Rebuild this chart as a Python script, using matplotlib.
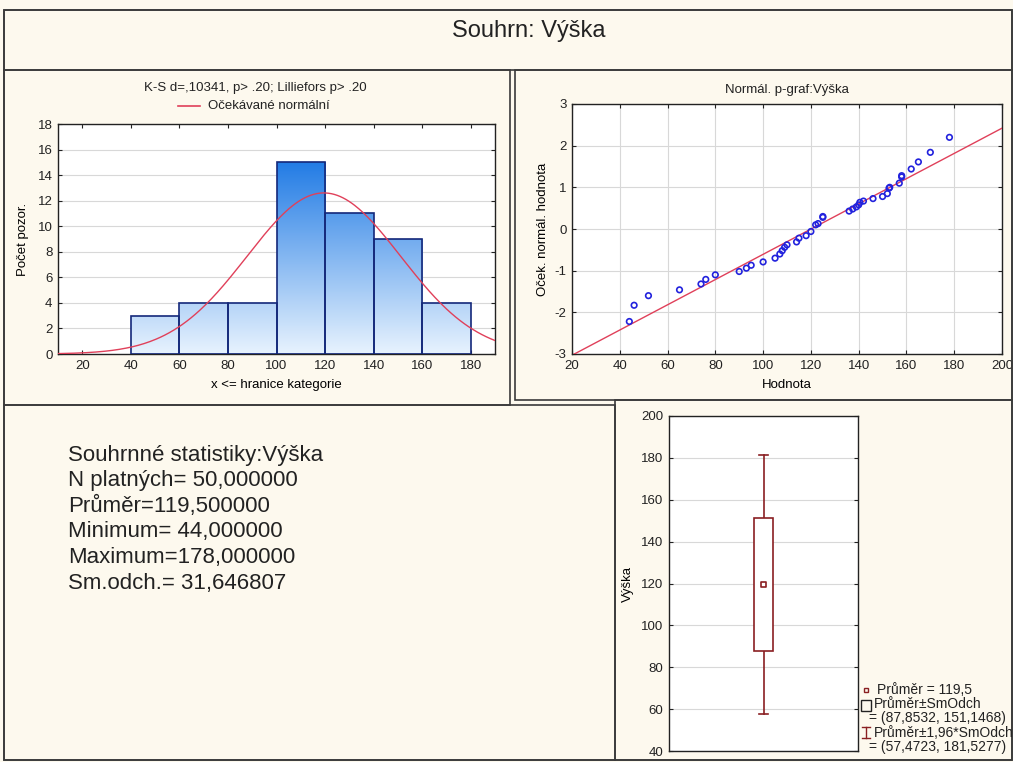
import matplotlib
matplotlib.use("Agg")
import matplotlib.pyplot as plt
import numpy as np
from matplotlib.patches import Rectangle
from matplotlib.lines import Line2D
from matplotlib.colors import LinearSegmentedColormap

plt.rcParams["font.family"] = ["Liberation Sans", "DejaVu Sans"]
plt.rcParams["axes.unicode_minus"] = False

# data
hist_edges = [40, 60, 80, 100, 120, 140, 160, 180]
hist_counts = [3, 4, 4, 15, 11, 9, 4]
n_obs = 50
mean_val = 119.5
sd_val = 31.646807
min_val = 44.0
max_val = 178.0

prob_x = [44, 46, 52, 65, 74, 76, 80, 90, 93, 95, 100, 105, 107, 108, 109, 110,
          114, 115, 118, 120, 122, 123, 125, 125, 136, 137.5, 139, 140, 140.5, 142,
          146, 150, 152, 152.7, 153, 157, 158, 158, 162, 165, 170, 178]
prob_y = [-2.22, -1.83, -1.6, -1.46, -1.32, -1.21, -1.10, -1.02, -0.94, -0.87, -0.79,
          -0.70, -0.60, -0.52, -0.44, -0.38, -0.31, -0.22, -0.16, -0.06, 0.10, 0.13,
          0.28, 0.30, 0.43, 0.48, 0.53, 0.58, 0.64, 0.67, 0.73, 0.78, 0.85, 0.98,
          1.00, 1.10, 1.25, 1.28, 1.44, 1.61, 1.84, 2.20]
prob_line_x = [20, 200]
prob_line_y = [-3.03, 2.42]

box_sd = (87.8532, 151.1468)
box_ci = (57.4723, 181.5277)

W, H = 1013, 762
bg = "#fdf9ee"
small = 9.5
fig = plt.figure(figsize=(W / 100, H / 100), dpi=100)
fig.patch.set_facecolor(bg)


def px_axes(x0, y0, x1, y1):
    return fig.add_axes([x0 / W, 1 - y1 / H, (x1 - x0) / W, (y1 - y0) / H])


def px_rect(x0, y0, x1, y1):
    r = Rectangle((x0 / W, 1 - y1 / H), (x1 - x0) / W, (y1 - y0) / H,
                  transform=fig.transFigure, fill=False, ec="#3a3a3a", lw=1.2)
    fig.add_artist(r)


def fx(x):
    return x / W


def fy(y):
    return 1 - y / H


# panel frames
px_rect(4, 10, 1012, 760)
px_rect(4, 10, 1012, 70)
px_rect(4, 70, 510, 405)
px_rect(515, 70, 1012, 400)
px_rect(4, 405, 615, 760)
px_rect(615, 400, 1012, 760)

fig.text(fx(529), fy(31), "Souhrn: Výška", fontsize=17, ha="center", va="center", color="#222")


def style_axes(ax):
    ax.set_facecolor("white")
    ax.tick_params(direction="in", length=3, labelsize=small, top=True, right=True,
                   labeltop=False, labelright=False, colors="#222", pad=4)
    for s in ax.spines.values():
        s.set_color("#222")
        s.set_linewidth(1.0)
    ax.set_axisbelow(True)


# histogram
ax = px_axes(58, 124, 495, 354)
style_axes(ax)
ax.set_xlim(10, 190)
ax.set_ylim(0, 18)
ax.set_xticks(range(20, 181, 20))
ax.set_yticks(range(0, 19, 2))
ax.yaxis.grid(True, color="#d8d8d8", lw=0.8)

cmap = LinearSegmentedColormap.from_list("bl", ["#e8f3fe", "#1c78e4"])
grad = np.linspace(0, 1, 256).reshape(-1, 1)
for i, c in enumerate(hist_counts):
    x0, x1 = hist_edges[i], hist_edges[i + 1]
    im = ax.imshow(grad, cmap=cmap, origin="lower", aspect="auto",
                   extent=(10, 190, 0, 15.5), zorder=2, interpolation="bilinear")
    rect = Rectangle((x0, 0), x1 - x0, c, fill=False, ec="#14287a", lw=1.2, zorder=3)
    ax.add_patch(rect)
    im.set_clip_path(rect)
ax.set_xlim(10, 190)
ax.set_ylim(0, 18)

xx = np.linspace(10, 190, 300)
binw = hist_edges[1] - hist_edges[0]
yy = n_obs * binw * np.exp(-0.5 * ((xx - mean_val) / sd_val) ** 2) / (sd_val * np.sqrt(2 * np.pi))
ax.plot(xx, yy, color="#e0405a", lw=1.0, zorder=4)
ax.set_xlabel("x <= hranice kategorie", fontsize=small, labelpad=5)
ax.set_ylabel("Počet pozor.", fontsize=small, labelpad=6)

fig.text(fx(255), fy(88), "K-S d=,10341, p> .20; Lilliefors p> .20", fontsize=small,
         ha="center", va="center", color="#222")
fig.add_artist(Line2D([fx(178), fx(200)], [fy(106), fy(106)], color="#e0405a", lw=1.2,
                      transform=fig.transFigure))
fig.text(fx(208), fy(106), "Očekávané normální", fontsize=small,
         ha="left", va="center", color="#222")

# normal probability plot
ax2 = px_axes(572, 104, 1002, 354)
style_axes(ax2)
ax2.set_xlim(20, 200)
ax2.set_ylim(-3, 3)
ax2.set_xticks(range(20, 201, 20))
ax2.set_yticks(range(-3, 4))
ax2.grid(True, color="#d8d8d8", lw=0.8)
ax2.plot(prob_line_x, prob_line_y, color="#e0405a", lw=1.0, zorder=3)
ax2.scatter(prob_x, prob_y, s=16, facecolors="none", edgecolors="#2222dd", lw=1.2, zorder=4)
ax2.set_xlabel("Hodnota", fontsize=small, labelpad=5)
ax2.set_ylabel("Oček. normál. hodnota", fontsize=small, labelpad=4)
ax2.set_title("Normál. p-graf:Výška", fontsize=small, pad=8, color="#222")

# stats text
stats_lines = [
    "Souhrnné statistiky:Výška",
    "N platných= 50,000000",
    "Průměr=119,500000",
    "Minimum= 44,000000",
    "Maximum=178,000000",
    "Sm.odch.= 31,646807",
]
for i, t in enumerate(stats_lines):
    fig.text(fx(68), fy(455 + i * 25.6), t, fontsize=16, ha="left", va="center", color="#222")

# box plot
box_col = "#8a1f22"
ax3 = px_axes(669, 416, 858, 751)
style_axes(ax3)
ax3.tick_params(top=False, bottom=False, labelbottom=False)
ax3.set_xlim(-1, 1)
ax3.set_ylim(40, 200)
ax3.set_yticks(range(40, 201, 20))
ax3.yaxis.grid(True, color="#d8d8d8", lw=0.8)
ax3.plot([0, 0], [box_ci[0], box_sd[0]], color=box_col, lw=1.2)
ax3.plot([0, 0], [box_sd[1], box_ci[1]], color=box_col, lw=1.2)
ax3.plot([-0.05, 0.05], [box_ci[0]] * 2, color=box_col, lw=1.2)
ax3.plot([-0.05, 0.05], [box_ci[1]] * 2, color=box_col, lw=1.2)
ax3.add_patch(Rectangle((-0.1, box_sd[0]), 0.2, box_sd[1] - box_sd[0], fc="white",
                        ec=box_col, lw=1.2, zorder=3))
ax3.scatter([0], [mean_val], marker="s", s=14, facecolors="none", edgecolors=box_col,
            lw=1.2, zorder=4)
ax3.set_ylabel("Výška", fontsize=small, labelpad=5)

# box legend
fig.add_artist(Rectangle((fx(864), fy(692)), 4 / W, 4 / H, fill=False, ec=box_col, lw=1.0,
                         transform=fig.transFigure))
fig.add_artist(Rectangle((fx(861), fy(711)), 10 / W, 11 / H, fill=False, ec="#222", lw=1.0,
                         transform=fig.transFigure))
fig.add_artist(Line2D([fx(866), fx(866)], [fy(727), fy(738)], color=box_col, lw=1.0,
                      transform=fig.transFigure))
fig.add_artist(Line2D([fx(862), fx(870)], [fy(727), fy(727)], color=box_col, lw=1.0,
                      transform=fig.transFigure))
fig.add_artist(Line2D([fx(862), fx(870)], [fy(738), fy(738)], color=box_col, lw=1.0,
                      transform=fig.transFigure))
leg_lines = [
    (877, 690, "Průměr = 119,5"),
    (874, 704, "Průměr±SmOdch"),
    (869, 718, "= (87,8532, 151,1468)"),
    (874, 733, "Průměr±1,96*SmOdch"),
    (869, 747, "= (57,4723, 181,5277)"),
]
for x, y, t in leg_lines:
    fig.text(fx(x), fy(y), t, fontsize=10, ha="left", va="center", color="#222")

fig.savefig("out.png", dpi=100, facecolor=bg)
